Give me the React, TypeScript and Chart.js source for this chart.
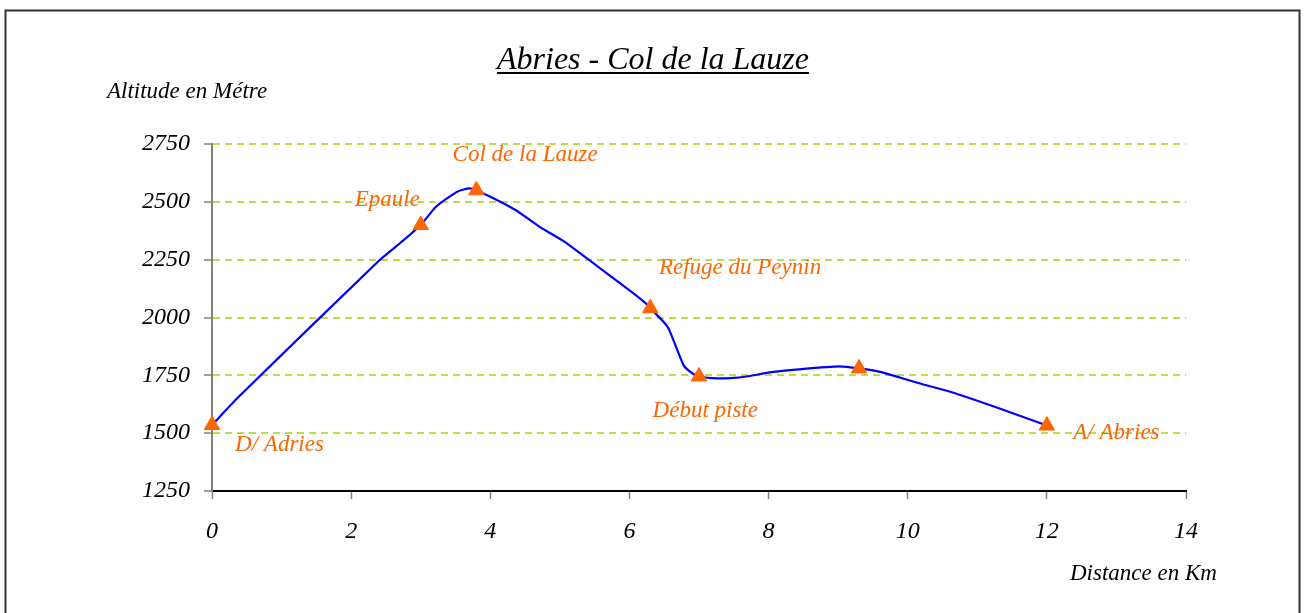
import React, { useEffect, useRef } from "react";
import { Chart, registerables } from "chart.js";

Chart.register(...registerables);

// ---- Data ----
const distanceKm = [0, 0.38, 2.38, 2.71, 3.0, 3.22, 3.52, 3.69, 3.8, 4.35, 4.71, 5.07, 5.58, 6.03, 6.24, 6.3, 6.55, 6.78, 6.91, 7.0, 7.19, 7.45, 7.71, 8.04, 8.43, 9.02, 9.3, 9.62, 10.1, 10.62, 11.26, 12.0];
const altitudeM = [1535, 1656, 2240, 2323, 2400, 2479, 2543, 2558, 2550, 2467, 2392, 2327, 2212, 2111, 2060, 2040, 1959, 1793, 1757, 1745, 1738, 1738, 1746, 1764, 1776, 1789, 1780, 1764, 1721, 1678, 1613, 1533];

const markerKm = [0, 3.0, 3.8, 6.3, 7.0, 9.3, 12.0];
const markerAlt = [1535, 2400, 2550, 2040, 1745, 1780, 1533];

const labelTexts = ["D/ Adries", "Epaule", "Col de la Lauze", "Refuge du Peynin", "Début piste", "A/ Abries"];
const labelKm = [0.97, 2.52, 4.5, 7.59, 7.09, 13.0];
const labelAlt = [1447, 2508, 2702, 2213, 1598, 1499];

const xTicksMin = 0;
const xTicksMax = 14;
const xStep = 2;
const yTicksMin = 1250;
const yTicksMax = 2750;
const yStep = 250;

const titleText = "Abries - Col de la Lauze";
const yTitle = "Altitude en Métre";
const xTitle = "Distance en Km";

const FONT = "'Liberation Serif', 'DejaVu Serif', serif";

const decorPlugin = {
  id: "decor",
  beforeDraw(chart: any) {
    const ctx = chart.ctx;
    ctx.save();
    ctx.fillStyle = "#ffffff";
    ctx.fillRect(0, 0, chart.width, chart.height);
    ctx.strokeStyle = "#333333";
    ctx.lineWidth = 2;
    ctx.strokeRect(5.5, 10.5, 1294, 700);
    ctx.restore();
  },
  afterDraw(chart: any) {
    const ctx = chart.ctx;
    const xs = chart.scales.x;
    const ys = chart.scales.y;
    ctx.save();
    // title
    ctx.fillStyle = "#000000";
    ctx.font = `italic 32px ${FONT}`;
    ctx.textAlign = "center";
    ctx.textBaseline = "alphabetic";
    ctx.fillText(titleText, 653, 69);
    const tw = ctx.measureText(titleText).width;
    ctx.strokeStyle = "#000000";
    ctx.lineWidth = 2;
    ctx.beginPath();
    ctx.moveTo(653 - tw / 2, 73);
    ctx.lineTo(653 + tw / 2, 73);
    ctx.stroke();
    // axis titles
    ctx.font = `italic 23px ${FONT}`;
    ctx.textAlign = "left";
    ctx.fillText(yTitle, 107, 98);
    ctx.fillText(xTitle, 1070, 580);
    // point labels
    ctx.fillStyle = "#FF6600";
    ctx.font = `italic 23px ${FONT}`;
    ctx.textAlign = "center";
    ctx.textBaseline = "middle";
    labelTexts.forEach((t, i) => {
      ctx.fillText(t, xs.getPixelForValue(labelKm[i]), ys.getPixelForValue(labelAlt[i]));
    });
    ctx.restore();
  },
};

export default function App() {
  const ref = useRef<HTMLCanvasElement | null>(null);
  useEffect(() => {
    if (!ref.current) return;
    const chart = new Chart(ref.current, {
      type: "scatter",
      data: {
        datasets: [
          {
            label: "profil",
            data: distanceKm.map((x, i) => ({ x, y: altitudeM[i] })),
            showLine: true,
            borderColor: "#0000FF",
            borderWidth: 2.2,
            pointRadius: 0,
            tension: 0.2,
            order: 2,
          },
          {
            label: "repères",
            data: markerKm.map((x, i) => ({ x, y: markerAlt[i] })),
            showLine: false,
            pointStyle: "triangle",
            pointRadius: 9,
            pointBackgroundColor: "#FF6600",
            pointBorderColor: "#FF6600",
            pointBorderWidth: 1,
            clip: false,
            order: 1,
          },
        ],
      },
      options: {
        animation: false,
        responsive: false,
        devicePixelRatio: 1,
        layout: { padding: { left: 0, top: 144, right: 119, bottom: 0 } },
        plugins: {
          legend: { display: false },
          tooltip: { enabled: false },
          title: { display: false },
        },
        scales: {
          x: {
            type: "linear",
            min: xTicksMin,
            max: xTicksMax,
            ticks: {
              stepSize: xStep,
              color: "#000000",
              font: { family: FONT, size: 24, style: "italic" },
              padding: 18,
              callback: (v: any) => String(v),
            },
            grid: {
              drawOnChartArea: false,
              drawTicks: true,
              tickLength: 8,
              tickColor: "#808080",
              tickWidth: 1.5,
            },
            border: { display: true, color: "#000000", width: 2 },
            afterFit: (s: any) => {
              s.height = 122;
            },
          },
          y: {
            type: "linear",
            min: yTicksMin,
            max: yTicksMax,
            ticks: {
              stepSize: yStep,
              color: "#000000",
              font: { family: FONT, size: 24, style: "italic" },
              padding: 14,
              callback: (v: any) => String(v),
            },
            grid: {
              color: (c: any) => (c.tick && c.tick.value === yTicksMin ? "rgba(0,0,0,0)" : "#BCDC48"),
              lineWidth: 2,
              drawTicks: true,
              tickLength: 8,
              tickColor: "#808080",
              tickWidth: 1.5,
            },
            border: { display: true, color: "#808080", width: 2, dash: [7, 5] },
            afterFit: (s: any) => {
              s.width = 212;
            },
          },
        },
      },
      plugins: [decorPlugin],
    });
    return () => chart.destroy();
  }, []);
  return (
    <div style={{ position: "absolute", left: 0, top: 0, width: 1305, height: 613, overflow: "hidden" }}>
      <canvas ref={ref} width={1305} height={613} style={{ display: "block" }} />
    </div>
  );
}
